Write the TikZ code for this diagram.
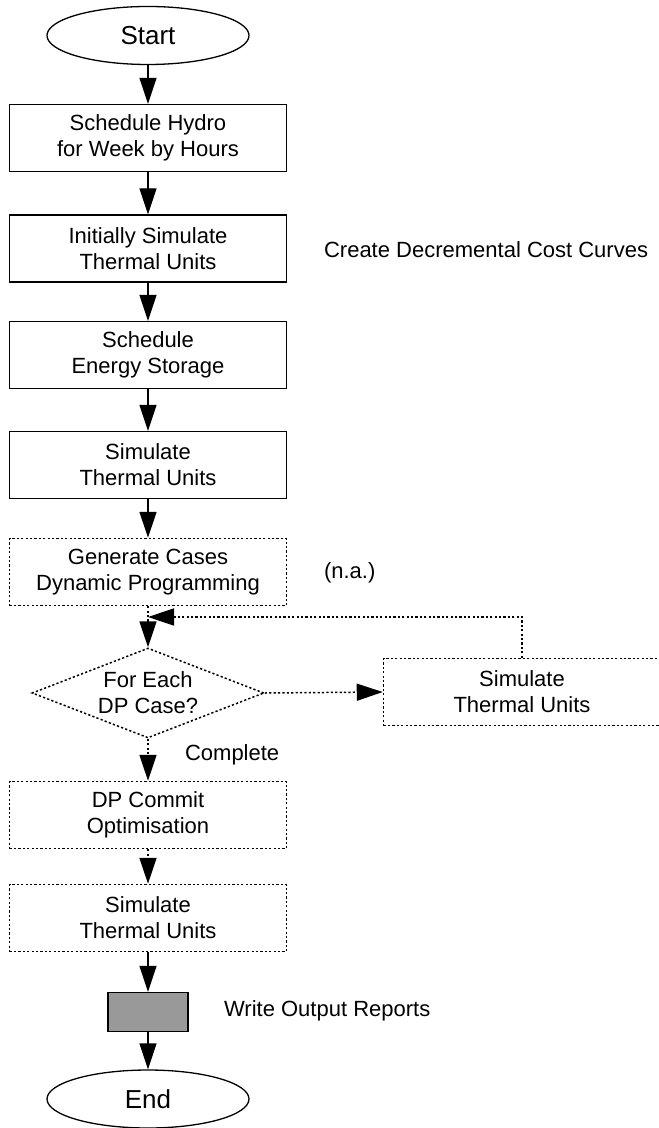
\documentclass[tikz,border=0pt]{standalone}
\usepackage{fontspec}
\setmainfont{Liberation Sans}
\usetikzlibrary{shapes.geometric,arrows.meta}
\tikzset{
  proc/.style={draw,line width=0.65pt,minimum width=138.5pt,minimum height=33.5pt,align=center,font=\fontsize{11}{13}\selectfont},
  optproc/.style={proc,line width=0.75pt,dash pattern=on 1.1pt off 1.1pt},
  term/.style={draw,ellipse,line width=0.65pt,minimum width=101pt,minimum height=29pt,font=\fontsize{13}{15}\selectfont},
  decide/.style={draw,diamond,shape aspect=2.6,line width=0.75pt,dash pattern=on 1.1pt off 1.1pt,inner sep=0pt,minimum width=116pt,minimum height=45pt,align=center,font=\fontsize{11}{13}\selectfont},
  note/.style={anchor=west,font=\fontsize{11}{13}\selectfont},
  flow/.style={line width=0.65pt,-{Triangle[length=13pt,width=8.5pt]}},
  optflow/.style={flow,line width=0.75pt,dash pattern=on 1.1pt off 1.1pt}
}
\begin{document}
\begin{tikzpicture}[x=0.5pt,y=-0.5pt]
\useasboundingbox (0,0) rectangle (658,1128);

\node[term] (start) at (148,35.5) {Start};
\node[proc] (hydro) at (148,138) {Schedule Hydro\\for Week by Hours};
\node[proc] (init) at (148,248.5) {Initially Simulate\\Thermal Units};
\node[proc] (storage) at (148,355) {Schedule\\Energy Storage};
\node[proc] (sim) at (148,465) {Simulate\\Thermal Units};
\node[optproc] (gen) at (148,572) {Generate Cases\\Dynamic Programming};
\node[decide] (case) at (148,693) {For Each\\DP Case?};
\node[optproc] (simdp) at (522,692) {Simulate\\Thermal Units};
\node[optproc] (commit) at (148,815) {DP Commit\\Optimisation};
\node[optproc] (simfin) at (148,918) {Simulate\\Thermal Units};
\node[draw,line width=0.65pt,fill=black!40,minimum width=40pt,minimum height=19.5pt] (report) at (148,1012) {};
\node[term] (end) at (148,1099) {End};

\node[note] (decnote) at (317,250) {Create Decremental Cost Curves};
\node[note] (nanote) at (317,573) {(n.a.)};
\node[note] (donenote) at (178,755) {Complete};
\node[note] (repnote) at (217,1011) {Write Output Reports};

\coordinate (back) at (148,617);

\draw[flow] (start) -- (hydro);
\draw[flow] (hydro) -- (init);
\draw[flow] (init) -- (storage);
\draw[flow] (storage) -- (sim);
\draw[flow] (sim) -- (gen);
\draw[optflow] (gen) -- (case);
\draw[optflow] (case.east) -- (simdp.west);
\draw[optflow] (simdp.north) |- (back);
\draw[optflow] (case) -- (commit);
\draw[optflow] (commit) -- (simfin);
\draw[flow] (simfin) -- (report);
\draw[flow] (report) -- (end);
\end{tikzpicture}
\end{document}
